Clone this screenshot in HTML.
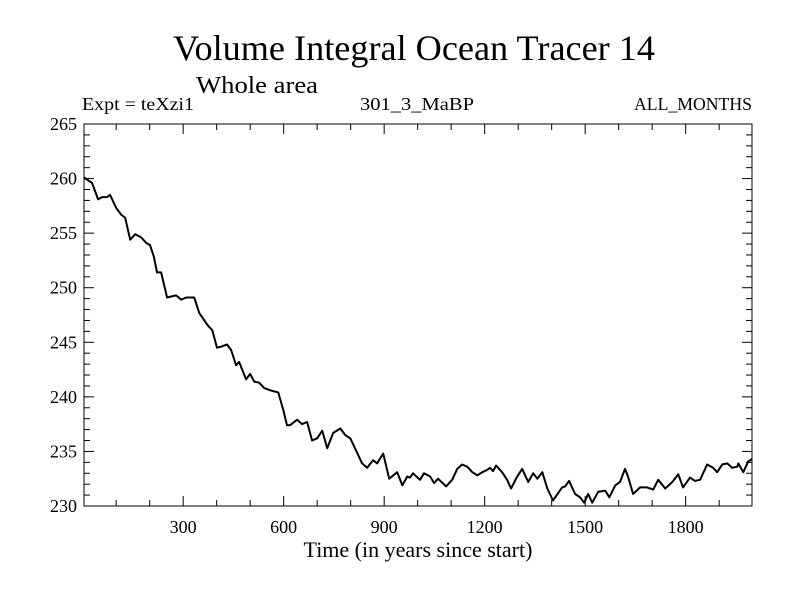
<!DOCTYPE html>
<html><head><meta charset="utf-8"><style>
html,body{margin:0;padding:0;background:#fff;}
svg{display:block;font-family:"Liberation Serif",serif;}
</style></head><body>
<svg id="chart" width="800" height="600" viewBox="0 0 800 600" xmlns="http://www.w3.org/2000/svg">
<rect width="800" height="600" fill="#fff"/>
<text x="173" y="60" font-size="36" textLength="482" lengthAdjust="spacingAndGlyphs">Volume Integral Ocean Tracer 14</text>
<text x="196" y="93" font-size="24" textLength="122" lengthAdjust="spacingAndGlyphs">Whole area</text>
<text x="82" y="110" font-size="18" textLength="112" lengthAdjust="spacingAndGlyphs">Expt = teXzi1</text>
<text x="360" y="110" font-size="18" textLength="114" lengthAdjust="spacingAndGlyphs">301_3_MaBP</text>
<text x="752" y="110" font-size="18" text-anchor="end" textLength="118" lengthAdjust="spacingAndGlyphs">ALL_MONTHS</text>
<g id="axes"></g>
<path id="series" fill="none" stroke="#000" stroke-width="2" stroke-linejoin="round"/>
<rect x="84" y="124" width="668" height="382" fill="none" stroke="#000" stroke-width="1"/>
<text x="418" y="557" font-size="22" text-anchor="middle">Time (in years since start)</text>
</svg>
<script>
const years = [4,28,46,58,73,82,100,115,127,142,157,175,190,201,213,222,234,252,279,294,309,333,348,372,387,401,413,431,443,458,467,488,500,512,527,542,560,584,599,610,619,640,655,670,685,700,715,730,748,769,784,799,819,834,849,867,879,897,915,939,954,969,977,986,1007,1019,1037,1049,1061,1085,1103,1118,1133,1148,1163,1178,1193,1207,1216,1225,1234,1252,1267,1279,1297,1312,1330,1345,1357,1372,1387,1404,1431,1440,1452,1470,1485,1497,1509,1521,1539,1560,1572,1590,1604,1619,1628,1643,1664,1685,1703,1718,1739,1760,1778,1792,1813,1828,1843,1864,1882,1894,1909,1924,1939,1954,1957,1972,1987,1998];
const values = [260.1,259.6,258.1,258.3,258.3,258.5,257.3,256.7,256.4,254.4,254.9,254.6,254.1,253.9,252.8,251.4,251.4,249.1,249.3,248.9,249.1,249.1,247.7,246.6,246.1,244.5,244.6,244.8,244.3,242.9,243.2,241.6,242.1,241.4,241.3,240.8,240.6,240.4,238.8,237.4,237.4,237.9,237.5,237.7,236.0,236.2,236.9,235.3,236.7,237.1,236.5,236.2,234.9,233.9,233.5,234.2,233.9,234.8,232.5,233.1,231.9,232.7,232.6,233.0,232.4,233.0,232.7,232.1,232.5,231.8,232.4,233.4,233.8,233.6,233.1,232.8,233.1,233.3,233.5,233.2,233.7,233.1,232.4,231.6,232.7,233.4,232.2,233.0,232.5,233.1,231.6,230.5,231.7,231.8,232.3,231.1,230.8,230.3,231.1,230.3,231.3,231.4,230.8,231.9,232.2,233.4,232.7,231.1,231.7,231.7,231.5,232.4,231.6,232.2,232.9,231.7,232.6,232.3,232.4,233.8,233.5,233.1,233.8,233.9,233.5,233.6,233.9,233.1,234.1,234.3];
const xTickLabels = [300,600,900,1200,1500,1800];
const yTickLabels = [230,235,240,245,250,255,260,265];

const X0=84,X1=752,Y0=506,Y1=124;
const xMin=4,xMax=1998,yMin=230,yMax=265;
const sx=v=>X0+(v-xMin)/(xMax-xMin)*(X1-X0);
const sy=v=>Y0-(v-yMin)/(yMax-yMin)*(Y0-Y1);
const NS="http://www.w3.org/2000/svg";
const g=document.getElementById('axes');
function line(x1,y1,x2,y2,name){
  const l=document.createElementNS(NS,'line');
  l.setAttribute('x1',x1);l.setAttribute('y1',y1);l.setAttribute('x2',x2);l.setAttribute('y2',y2);
  l.setAttribute('stroke','#000');l.setAttribute('stroke-width','1');
  
  
  g.appendChild(l);
}
function text(x,y,s,anchor,name){
  const t=document.createElementNS(NS,'text');
  t.setAttribute('x',x);t.setAttribute('y',y);t.setAttribute('font-size','18');
  t.setAttribute('text-anchor',anchor);t.textContent=s;
  
  
  g.appendChild(t);
}
for(let yr=100;yr<2000;yr+=100){
  const x=sx(yr), len=(yr%300===0)?10:6;
  line(x,Y0,x,Y0-len,'x-tick');
  line(x,Y1,x,Y1+len,'x-tick-top');
}
for(let v=231;v<265;v++){
  const y=sy(v), len=(v%5===0)?10:6;
  line(X0,y,X0+len,y,'y-tick');
  line(X1,y,X1-len,y,'y-tick-right');
}
xTickLabels.forEach(v=>text(sx(v),533,String(v),'middle','x-tick-label'));
yTickLabels.forEach(v=>text(77,sy(v)+6,String(v),'end','y-tick-label'));
let d='';
years.forEach((yr,i)=>{d+=(i?'L':'M')+sx(yr).toFixed(1)+','+sy(values[i]).toFixed(1);});
document.getElementById('series').setAttribute('d',d);
</script>
</body></html>
